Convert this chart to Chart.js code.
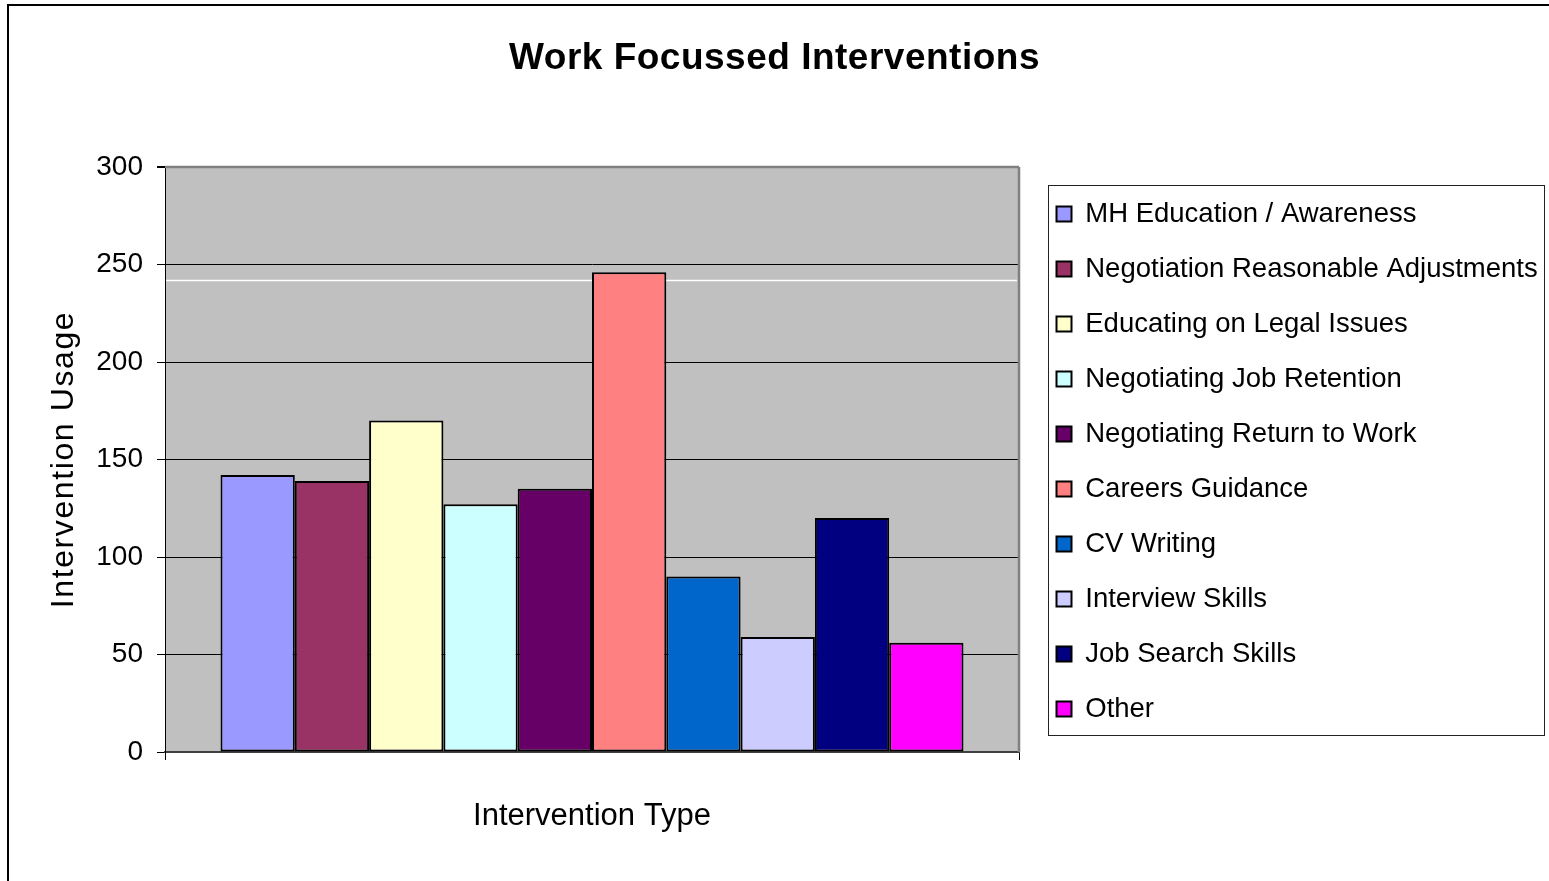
<!DOCTYPE html>
<html><head><meta charset="utf-8">
<script src="https://cdn.jsdelivr.net/npm/chart.js@4/dist/chart.umd.min.js"></script>
<style>
html,body{margin:0;padding:0;background:#fff;}
#wrap{position:relative;width:1549px;height:881px;overflow:hidden;background:#fff;}
#frame{position:absolute;left:7px;top:4px;width:1600px;height:1000px;border-top:2px solid #000;border-left:2px solid #000;}
#c{position:absolute;left:0;top:0;}
</style></head><body>
<div id="wrap"><div id="frame"></div><canvas id="c" width="1549" height="881"></canvas></div>
<script>
// ---- data ----
const chartTitle = 'Work Focussed Interventions';
const xAxisTitle = 'Intervention Type';
const yAxisTitle = 'Intervention Usage';
const categories = [''];
const seriesNames = [
  'MH Education / Awareness',
  'Negotiation Reasonable Adjustments',
  'Educating on Legal Issues',
  'Negotiating Job Retention',
  'Negotiating Return to Work',
  'Careers Guidance',
  'CV Writing',
  'Interview Skills',
  'Job Search Skills',
  'Other'
];
const seriesValues = [142, 139, 170, 127, 135, 246, 90, 59, 120, 56];
const seriesColors = ['#9999FF', '#993366', '#FFFFCC', '#CCFFFF', '#660066', '#FF8080', '#0066CC', '#CCCCFF', '#000080', '#FF00FF'];
const yMin = 0, yMax = 300, yStep = 50;
const whiteLineValue = 242;

// ---- styling ----
const FAMILY = "'Liberation Sans', Arial, Helvetica, sans-serif";
Chart.defaults.font.family = FAMILY;
Chart.defaults.color = '#000';

const framePlugin = {
  id: 'framePlugin',
  beforeLayout(chart) {
    const lg = chart.legend;
    if (lg && !lg._wrapFit) {
      const f = lg.fit.bind(lg);
      lg.fit = function () { f(); this.width = 530; };
      lg._wrapFit = true;
    }
  },
  afterLayout(chart) {
    const lg = chart.legend;
    if (lg) { lg.left += 10; lg.right += 10; lg.top += 21; lg.bottom += 21; }
  },
  beforeDraw(chart) {
    const tb = chart.titleBlock;
    if (tb && !tb._wrapDraw) {
      const d = tb.draw.bind(tb);
      tb.draw = function (a) { const c = chart.ctx; c.save(); c.letterSpacing = '0.5px'; d(a); c.restore(); };
      tb._wrapDraw = true;
    }
    const ys = chart.scales.y;
    if (ys && !ys._wrapTitle) {
      const d2 = ys.drawTitle.bind(ys);
      ys.drawTitle = function (a) { const c = chart.ctx; c.save(); c.letterSpacing = '1.6px'; d2(a); c.restore(); };
      ys._wrapTitle = true;
    }
    const {ctx, chartArea: a} = chart;
    ctx.save();
    ctx.fillStyle = '#C0C0C0';
    ctx.fillRect(a.left, a.top, a.right - a.left, a.bottom - a.top);
    ctx.restore();
  },
  beforeDatasetsDraw(chart) {
    const {ctx, chartArea: a, scales: {y}} = chart;
    ctx.save();
    ctx.strokeStyle = '#808080';
    ctx.lineWidth = 2.5;
    ctx.beginPath();
    ctx.moveTo(a.left, a.top); ctx.lineTo(a.right, a.top);
    ctx.moveTo(a.right, a.top); ctx.lineTo(a.right, a.bottom);
    ctx.stroke();
    const wy = Math.round(y.getPixelForValue(whiteLineValue)) + 0.5;
    ctx.strokeStyle = '#FFFFFF';
    ctx.lineWidth = 1.5;
    ctx.beginPath();
    ctx.moveTo(a.left + 1, wy); ctx.lineTo(a.right - 2, wy);
    ctx.stroke();
    ctx.restore();
  },
  afterDraw(chart) {
    const {ctx, chartArea: a} = chart;
    ctx.save();
    ctx.strokeStyle = '#222';
    ctx.lineWidth = 1;
    ctx.strokeRect(a.right + 29 + 0.5, a.top + 18 + 0.5, 496, 550);
    ctx.restore();
  }
};

new Chart(document.getElementById('c'), {
  type: 'bar',
  data: {
    labels: categories,
    datasets: seriesNames.map((name, i) => ({
      label: name,
      data: [seriesValues[i]],
      backgroundColor: seriesColors[i],
      borderColor: '#000',
      borderWidth: 2,
      borderSkipped: false,
      categoryPercentage: 0.87,
      barPercentage: 1.0
    }))
  },
  options: {
    responsive: false,
    animation: false,
    devicePixelRatio: 1,
    events: [],
    layout: { padding: 0 },
    plugins: {
      title: {
        display: true, text: chartTitle, color: '#000',
        font: { size: 37, weight: 'bold', family: FAMILY, lineHeight: 1.2 },
        padding: { top: 37, bottom: 85.6 }
      },
      legend: {
        display: true, position: 'right', align: 'center',
        labels: { color: '#000', font: { size: 27.5, family: FAMILY }, boxWidth: 15, boxHeight: 15, padding: 27.5 }
      },
      tooltip: { enabled: false }
    },
    scales: {
      x: {
        type: 'category', offset: true,
        grid: { display: true, offset: true, drawOnChartArea: false, drawTicks: true, tickLength: 8, color: '#000', tickColor: '#000' },
        border: { display: true, color: '#404040', width: 2 },
        ticks: { display: false },
        title: { display: true, text: xAxisTitle, color: '#000', font: { size: 31, family: FAMILY, lineHeight: 1.2 }, padding: { top: 0, bottom: 46 } },
        afterFit(s) { s.height = 129; }
      },
      y: {
        min: yMin, max: yMax,
        ticks: { stepSize: yStep, color: '#000', font: { size: 28, family: FAMILY }, padding: 14 },
        grid: {
          color: c => (c.tick && c.tick.value === yMax) ? '#808080' : '#000',
          lineWidth: c => (c.tick && c.tick.value === yMax) ? 2 : 1,
          tickColor: '#000', tickLength: 8
        },
        border: { display: true, color: '#000', width: 1 },
        title: { display: true, text: yAxisTitle, color: '#000', font: { size: 32, family: FAMILY, lineHeight: 1.2 }, padding: { top: 45, bottom: 0 } },
        afterFit(s) { s.width = 165; }
      }
    }
  },
  plugins: [framePlugin]
});
</script>
</body></html>
